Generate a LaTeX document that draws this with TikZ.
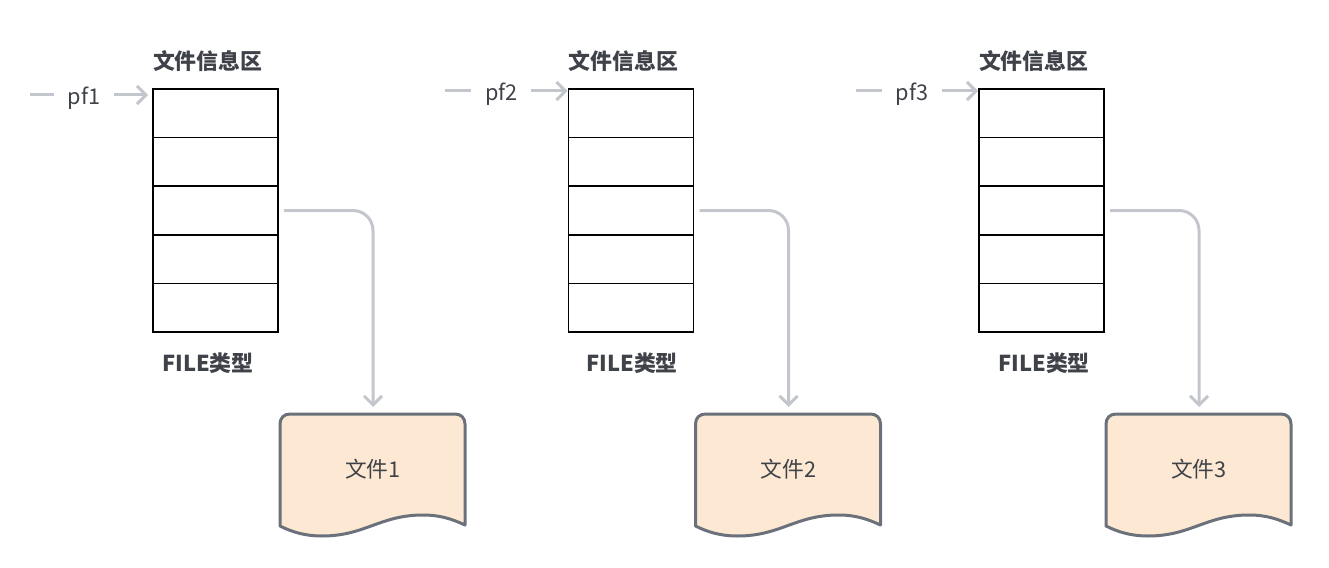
\documentclass[tikz,border=0pt]{standalone}
\usepackage{fontspec}
\setmainfont{Noto Sans CJK SC}
\usetikzlibrary{arrows.meta,calc}
\definecolor{linegrey}{HTML}{C3C6CC}
\definecolor{docedge}{HTML}{6B717B}
\definecolor{docfill}{HTML}{FDE9D3}
\definecolor{inkdark}{HTML}{3F4249}
\tikzset{
  x=1pt,y=-1pt,
  every node/.style={inner sep=0pt,outer sep=0pt,text=inkdark,font=\fontsize{21.7}{26}\selectfont},
  rowbox/.style={draw=black,line width=1.6pt,minimum width=125pt,minimum height=48.6pt,anchor=north west},
  headtext/.style={font=\fontsize{21.9}{26}\selectfont\bfseries},
  ptrlabel/.style={minimum width=60pt,minimum height=24pt,text depth=0pt},
  greyline/.style={draw=linegrey,line width=3pt},
  greyarrow/.style={greyline,-{Straight Barb[length=9pt,width=18pt,line width=3pt]}},
  docshape/.style={draw=docedge,fill=docfill,line width=3pt,line join=round},
}
\begin{document}
\begin{tikzpicture}
\useasboundingbox (0,0) rectangle (1329,567);
\foreach \n/\sx/\py/\stub/\lbl/\fx/\gap/\tx in {1/153/95/30/84/208/5/84, 2/568.5/91/445/501/632/1/502, 3/979/91/856/912/1044/1/912.5}{
  % stack of rows
  \foreach \r in {1,...,5}{
    \node[rowbox] (row\n-\r) at (\sx,{89+(\r-1)*48.6}) {};
  }
  % texts
  \node[headtext,anchor=west] (head\n) at ($(row\n-1.north west)+(0,-28)$) {文件信息区};
  \node[headtext] (type\n) at (\fx,363.5) {FILE类型};
  \node[ptrlabel] (ptr\n) at (\lbl,\py) {\hspace{\dimexpr\tx pt-\lbl pt\relax}\raisebox{-2pt}{pf\n}};
  \coordinate (stub\n) at (\stub,\py);
  \draw[greyline] (stub\n) -- (ptr\n.west);
  \draw[greyarrow,shorten >=\gap pt] (ptr\n.east) -- (ptr\n.east -| row\n-1.west);
  % document
  \begin{scope}[shift={(\sx+127,0)}]
    \path[docshape] (0,424)
      .. controls (0,418) and (4,414) .. (10,414)
      -- (175,414)
      .. controls (181,414) and (185,418) .. (185,424)
      -- (185,525)
      .. controls (172,519) and (160,515) .. (143,515)
      .. controls (100,515) and (85,536) .. (42,536)
      .. controls (25,536) and (12,532) .. (0,526)
      -- cycle;
    \coordinate (doctop\n) at (93,414);
    \node (doc\n) at (93,469.5) {文件\n};
  \end{scope}
  % connector
  \coordinate (tap\n) at ($(row\n-3.east)+(6,0)$);
  \draw[greyarrow,rounded corners=20pt,shorten >=7pt] (tap\n) -| (doctop\n);
}
\end{tikzpicture}
\end{document}
